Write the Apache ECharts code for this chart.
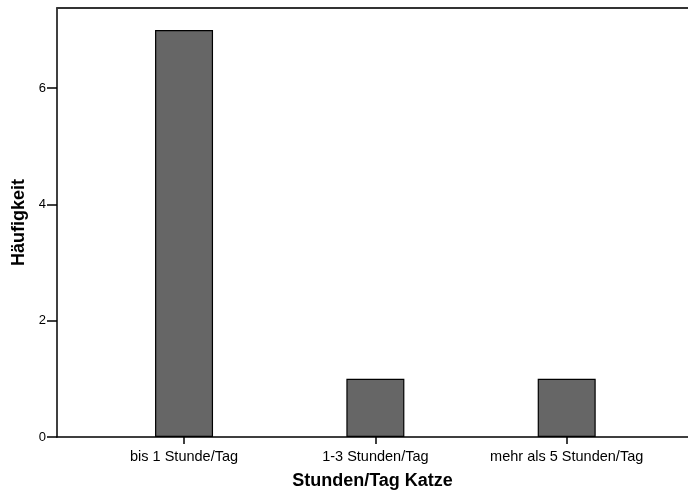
<!DOCTYPE html>
<html>
<head>
<meta charset="utf-8">
<script src="https://cdn.jsdelivr.net/npm/echarts@6/dist/echarts.min.js"></script>
<style>html,body{margin:0;padding:0;background:#fff}#c{width:688px;height:493px}</style>
</head>
<body>
<div id="c"></div>
<script>
const categories = ['bis 1 Stunde/Tag', '1-3 Stunden/Tag', 'mehr als 5 Stunden/Tag'];
const counts = [7, 1, 1];
const yTicks = [0, 2, 4, 6];
const xTitle = 'Stunden/Tag Katze';
const yTitle = 'Häufigkeit';

const positions = categories.map((c, i) => i + 1);
const chart = echarts.init(document.getElementById('c'), null, {renderer: 'canvas'});
const font = 'Liberation Sans, Arial, sans-serif';
chart.setOption({
  animation: false,
  grid: {left: 57, right: 0, top: 8, bottom: 56, containLabel: false, outerBoundsMode: 'none'},
  xAxis: [{
    type: 'value', min: 0.336, max: 3.634,
    name: xTitle, nameLocation: 'middle', nameGap: 35,
    nameTextStyle: {fontFamily: font, fontSize: 18, fontWeight: 'bold', color: '#000'},
    axisLine: {show: true, lineStyle: {color: '#000', width: 1.5}},
    axisTick: {show: true, length: 7, customValues: positions, lineStyle: {color: '#000', width: 1.5}},
    axisLabel: {customValues: positions, margin: 12, fontFamily: font, fontSize: 14.5, color: '#000',
      formatter: v => categories[Math.round(v) - 1] || ''},
    splitLine: {show: false}
  }, {
    type: 'value', position: 'top', min: 0.336, max: 3.634,
    axisLine: {show: true, onZero: false, lineStyle: {color: '#333', width: 2}},
    axisTick: {show: false}, axisLabel: {show: false}, splitLine: {show: false}
  }],
  yAxis: {
    type: 'value', min: 0, max: 7.38,
    name: yTitle, nameLocation: 'middle', nameGap: 28,
    nameTextStyle: {fontFamily: font, fontSize: 18, fontWeight: 'bold', color: '#000'},
    axisLine: {show: true, lineStyle: {color: '#000', width: 1.5}},
    axisTick: {show: true, length: 10, customValues: yTicks, lineStyle: {color: '#000', width: 1.5}},
    axisLabel: {customValues: yTicks, margin: 11, fontFamily: font, fontSize: 13, color: '#000'},
    splitLine: {show: false}
  },
  series: [{
    type: 'bar',
    barWidth: 58,
    data: positions.map((p, i) => [p, counts[i]]),
    itemStyle: {color: '#666666', borderColor: '#000', borderWidth: 1.2}
  }]
});
</script>
</body>
</html>
